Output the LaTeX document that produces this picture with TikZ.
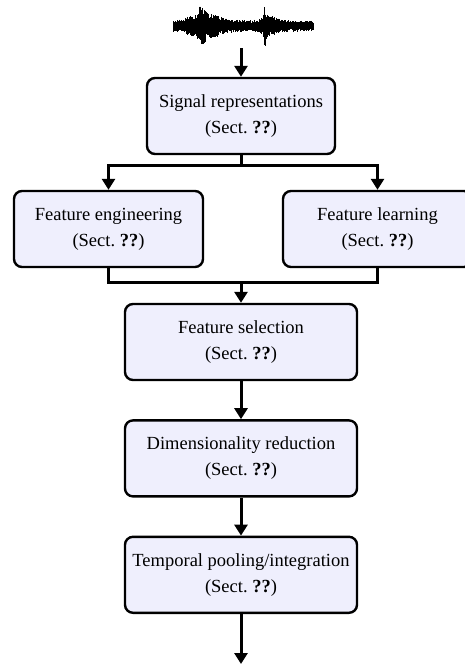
\documentclass[tikz,border=0pt]{standalone}
\usepackage{fontspec}
\setmainfont{Liberation Serif}
\usetikzlibrary{positioning, arrows.meta}
\definecolor{boxfill}{RGB}{239,239,253}
\tikzset{Block/.style={%
    shape=rectangle,%
    draw=black,%
    fill=boxfill,%
    rounded corners=8pt,%
    line width=2.4pt,%
    minimum height=76pt,%
    inner sep=2pt,%
    align=center,%
    font=\fontsize{18.5}{26}\selectfont,%
}}
\tikzset{FlowEdge/.style={%
    line width=3pt,%
}}
\tikzset{FlowArrow/.style={%
    FlowEdge,%
    -{Triangle[length=11pt,width=13pt]},%
}}
\newcommand{\sectRef}{(Sect.~\textbf{??})}

\begin{document}
\begin{tikzpicture}[x=1pt, y=-1pt]
    \useasboundingbox (0,0) rectangle (464,665);

    % audio waveform
    \pgfmathsetseed{11}
    \foreach \x in {173,173.5,...,313} {
        \pgfmathsetmacro{\amp}{5.2 + 14/(1+((\x-201)/4)^2) + 6/(1+((\x-213)/9)^2)
            + 4/(1+((\x-189)/3)^2) + 14/(1+((\x-265)/1.5)^2) + 4/(1+((\x-273)/6)^2)}
        \pgfmathsetmacro{\up}{26 - \amp*(0.5+0.5*rnd)}
        \pgfmathsetmacro{\dn}{26 + \amp*(0.5+0.5*rnd)}
        \draw[line width=1pt] (\x,\up) -- (\x,\dn);
    }
    \coordinate (wave) at (241,48);

    \node[Block, minimum width=188pt] (sr) at (241,116) {Signal representations\\\sectRef};
    \node[Block, minimum width=189pt] (fe) at (108.5,229) {Feature engineering\\\sectRef};
    \node[Block, minimum width=189pt] (fl) at (377.5,229) {Feature learning\\\sectRef};
    \node[Block, minimum width=232pt] (fs) at (241,342) {Feature selection\\\sectRef};
    \node[Block, minimum width=232pt, below=38pt of fs] (dr) {Dimensionality reduction\\\sectRef};
    \node[Block, minimum width=232pt, below=38pt of dr] (tp) {Temporal pooling/integration\\\sectRef};

    \coordinate (split) at (241,165);
    \coordinate (join) at (241,282);
    \coordinate (out) at (241,664);

    \draw[FlowArrow] (wave) -- (sr);
    \draw[FlowEdge] (sr) -- (split);
    \draw[FlowArrow] (split) -| (fe);
    \draw[FlowArrow] (split) -| (fl);
    \draw[FlowEdge] (fe) |- (join);
    \draw[FlowEdge] (fl) |- (join);
    \draw[FlowArrow] (join) -- (fs);
    \draw[FlowArrow] (fs) -- (dr);
    \draw[FlowArrow] (dr) -- (tp);
    \draw[FlowArrow] (tp) -- (out);
\end{tikzpicture}
\end{document}
